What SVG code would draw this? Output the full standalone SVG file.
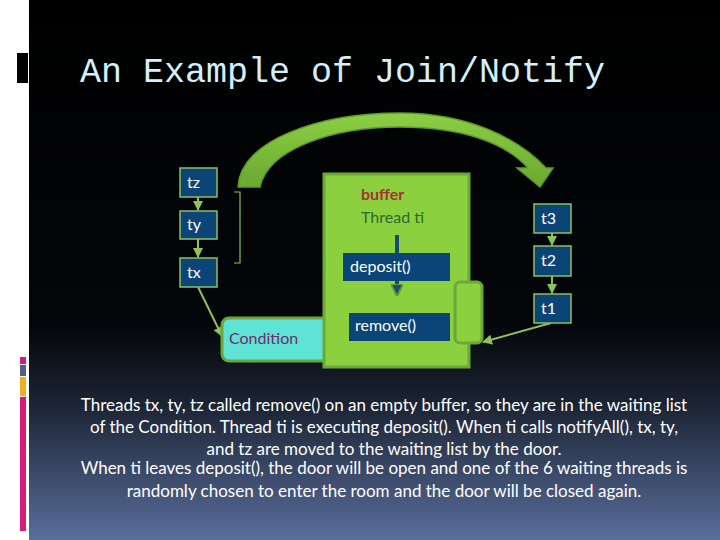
<svg xmlns="http://www.w3.org/2000/svg" width="720" height="540" viewBox="0 0 720 540">
<defs>
<linearGradient id="bg" x1="0" y1="0" x2="0" y2="1">
<stop offset="0" stop-color="#000"/>
<stop offset="0.6" stop-color="#04060a"/>
<stop offset="0.75" stop-color="#1c2434"/>
<stop offset="1" stop-color="#5a6e9c"/>
</linearGradient>
<linearGradient id="arc" x1="0" y1="0" x2="0" y2="1">
<stop offset="0" stop-color="#8ccf45"/>
<stop offset="1" stop-color="#6aa830"/>
</linearGradient>
<marker id="ah" viewBox="0 0 10 10" refX="9" refY="5" markerWidth="5" markerHeight="5" orient="auto">
<path d="M0,0 L10,5 L0,10 Z" fill="#8fc05a"/>
</marker>
<marker id="ahb" viewBox="0 0 10 10" refX="9" refY="5" markerWidth="3" markerHeight="3" orient="auto">
<path d="M0,0 L10,5 L0,10 Z" fill="#1a4a72" stroke="#5f9a30" stroke-width="1.5"/>
</marker>
</defs>
<style>
.tb{fill:#0b4577;stroke:#8fc05a;stroke-width:1.5}
.tt{font-family:Lato,"Liberation Sans",sans-serif;font-size:16px;fill:#fff}
.con{stroke:#8fc05a;stroke-width:2;fill:none}
.body{font-family:Lato,"Liberation Sans",sans-serif;font-size:17px;fill:#fff;text-anchor:middle}
</style>
<rect x="0" y="0" width="720" height="540" fill="#fff"/>
<rect x="29" y="0" width="691" height="540" fill="url(#bg)"/>
<rect x="17" y="53" width="11" height="30" fill="#000"/>
<rect x="20" y="357" width="6" height="7" fill="#d81b7a"/>
<rect x="20" y="365" width="6" height="11" fill="#55607a"/>
<rect x="20" y="377" width="6" height="19" fill="#f0b020"/>
<rect x="20" y="397" width="6" height="134" fill="#d81b7a"/>
<text x="80" y="82" font-family="Liberation Mono,monospace" font-size="35" fill="#d5f0fa">An Example of Join/Notify</text>

<g id="arc-arrow">
<path d="M238,187 C240,140 320,113 400,113 C470,113 520,140 546,168 L553,168 L540,187 L517,168 L528,168 C505,142 460,127 400,127 C330,127 268,150 260,187 Z" fill="url(#arc)" stroke="#5f9a2a" stroke-width="1.5"/>
</g>

<g id="connectors">
<path class="con" d="M198,197 L198,210" marker-end="url(#ah)"/>
<path class="con" d="M198,239 L198,257" marker-end="url(#ah)"/>
<path class="con" d="M552,233 L552,245" marker-end="url(#ah)"/>
<path class="con" d="M552,276 L552,293" marker-end="url(#ah)"/>
<path class="con" d="M198,287 L222,336" marker-end="url(#ah)"/>
<path class="con" d="M551,323 L483,342" marker-end="url(#ah)"/>
<path d="M234,192 L240,192 L240,263 L234,263" fill="none" stroke="#8fc05a" stroke-width="1.2"/>
</g>

<g id="condition">
<rect x="222" y="318" width="110" height="43" rx="7" fill="#5ee3d4" stroke="#6aa83a" stroke-width="3"/>
<text x="229" y="344" font-family="Lato,'Liberation Sans',sans-serif" font-size="16" fill="#6b2d6b">Condition</text>
</g>

<g id="buffer">
<rect x="324" y="174" width="145" height="193" fill="#8dd03f" stroke="#6aa83a" stroke-width="3"/>
<text x="361" y="200" font-family="Lato,'Liberation Sans',sans-serif" font-size="16" font-weight="bold" fill="#a83232">buffer</text>
<text x="361" y="223" font-family="Lato,'Liberation Sans',sans-serif" font-size="16" fill="#2a6a2a">Thread ti</text>
<line x1="397" y1="235" x2="397" y2="254" stroke="#1a4a72" stroke-width="4"/>
<line x1="397" y1="281" x2="397" y2="295" stroke="#1a4a72" stroke-width="4" marker-end="url(#ahb)"/>
</g>

<g id="deposit">
<rect x="343" y="253" width="107" height="28" fill="#0b4577"/>
<text class="tt" x="350" y="272">deposit()</text>
</g>
<g id="remove">
<rect x="349" y="313" width="101" height="28" fill="#0b4577"/>
<text class="tt" x="355" y="331">remove()</text>
</g>
<g id="door">
<rect x="455" y="282" width="27" height="61" rx="5" fill="#8dd03f" stroke="#6aa83a" stroke-width="3"/>
</g>

<g id="tz"><rect class="tb" x="180" y="168" width="37" height="29"/><text class="tt" x="187" y="188">tz</text></g>
<g id="ty"><rect class="tb" x="180" y="211" width="37" height="28"/><text class="tt" x="187" y="230">ty</text></g>
<g id="tx"><rect class="tb" x="180" y="258" width="37" height="29"/><text class="tt" x="187" y="278">tx</text></g>
<g id="t3"><rect class="tb" x="534" y="204" width="37" height="29"/><text class="tt" x="541" y="224">t3</text></g>
<g id="t2"><rect class="tb" x="534" y="246" width="37" height="30"/><text class="tt" x="541" y="266">t2</text></g>
<g id="t1"><rect class="tb" x="534" y="294" width="37" height="29"/><text class="tt" x="541" y="314">t1</text></g>

<g id="caption">
<text class="body" x="384" y="411">Threads tx, ty, tz called remove() on an empty buffer, so they are in the waiting list</text>
<text class="body" x="384" y="433">of the Condition. Thread ti is executing deposit(). When ti calls notifyAll(), tx, ty,</text>
<text class="body" x="384" y="455">and tz are moved to the waiting list by the door.</text>
<text class="body" x="384" y="474">When ti leaves deposit(), the door will be open and one of the 6 waiting threads is</text>
<text class="body" x="384" y="497">randomly chosen to enter the room and the door will be closed again.</text>
</g>
</svg>
